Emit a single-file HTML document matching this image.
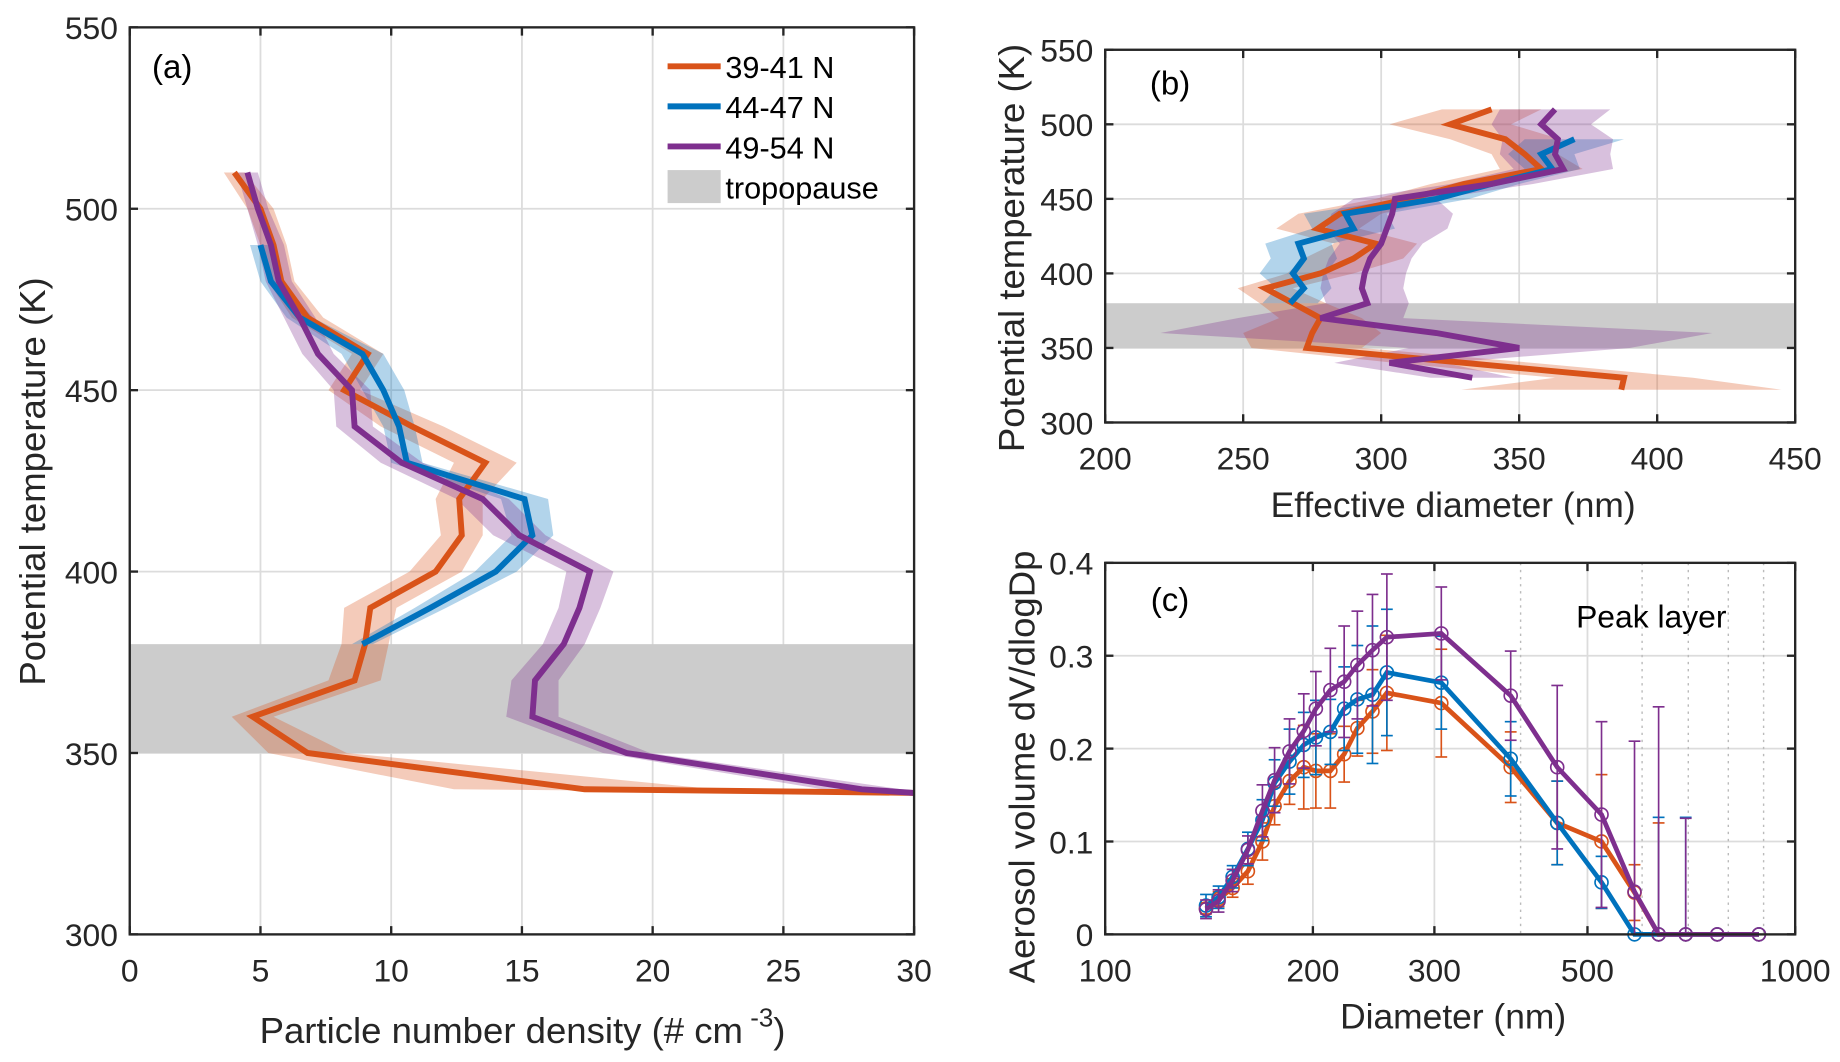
<!DOCTYPE html>
<html><head><meta charset="utf-8">
<style>
html,body{margin:0;padding:0;background:#fff;}
svg{display:block;font-family:"Liberation Sans",Arial,sans-serif;}
</style></head>
<body>
<svg id="fig" width="1840" height="1062" viewBox="0 0 1560 900" xmlns="http://www.w3.org/2000/svg"></svg>
<script>
// ---------- Panel (a) data ----------
const aThetaO = [510,500,490,480,470,460,450,440,430,420,410,400,390,380,370,360,350,340,339];
const aValO   = [4.0,5.0,5.5,5.8,6.8,9.1,8.2,10.8,13.6,12.6,12.7,11.7,9.2,9.0,8.6,4.7,6.8,17.4,30];
const aErrO   = [0.4,0.5,0.5,0.5,0.6,0.6,0.6,1.2,1.2,0.9,0.8,1.0,1.0,0.9,1.0,0.8,1.5,5.0,3];
const aThetaB = [490,480,470,460,450,440,430,420,410,400,390,380];
const aValB   = [5.0,5.4,6.5,8.9,9.7,10.3,10.6,15.1,15.4,14.0,11.5,8.9];
const aErrB   = [0.4,0.4,0.5,0.8,0.8,0.6,0.6,0.9,0.8,0.8,0.6,0.4];
const aThetaP = [510,500,490,480,470,460,450,440,430,420,410,400,390,380,370,360,350,340,339];
const aValP   = [4.5,4.9,5.4,5.7,6.5,7.2,8.5,8.6,10.4,13.5,14.9,17.6,17.2,16.6,15.5,15.4,19.0,28.0,30];
const aErrP   = [0.4,0.4,0.5,0.5,0.6,0.6,0.7,0.7,0.8,1.0,1.0,0.9,0.8,0.8,0.9,1.0,0.9,1.5,1.5];
const aXTicks = [0,5,10,15,20,25,30];
const aYTicks = [300,350,400,450,500,550];

// ---------- Panel (b) data ----------
const bThetaO = [510,500,490,480,470,460,450,440,430,420,410,400,390,380,370,360,350,340,330,322];
const bValO   = [340,325,345,352,358,330,310,285,277,298,290,278,258,268,278,275,273,330,388,387];
const bErrO   = [18,22,20,12,15,12,12,15,15,15,18,12,10,12,15,25,20,25,25,58];
const bThetaB = [490,480,470,460,450,440,430,420,410,400,390,380];
const bValB   = [370,358,362,340,320,287,290,270,272,268,272,267];
const bErrB   = [18,12,10,10,12,15,15,12,12,12,10,10];
const bThetaP = [510,500,490,480,470,460,450,440,430,420,410,400,390,380,370,360,350,340,330];
const bValP   = [363,358,364,363,366,340,305,304,302,300,296,294,293,295,278,320,350,303,333];
const bErrP   = [20,18,20,20,18,15,15,22,22,15,15,15,15,15,30,100,40,20,15];
const bXTicks = [200,250,300,350,400,450];
const bYTicks = [300,350,400,450,500,550];

// ---------- Panel (c) data ----------
const cDiam = [140,146,153,161,169,176,185,194,202,212,222,232,244,256,307,387,452,524,585,634,694,771,886];
const cValO = [0.028,0.038,0.050,0.068,0.100,0.138,0.165,0.180,0.176,0.176,0.194,0.222,0.240,0.260,0.249,0.180,0.120,0.100,0.045,0,0,0,0];
const cErrO = [0.006,0.008,0.010,0.014,0.020,0.020,0.025,0.045,0.040,0.040,0.030,0.030,0.045,0.062,0.058,0.038,0.045,0.072,0.03,0.12,0,0,0];
const cValB = [0.031,0.040,0.062,0.092,0.123,0.163,0.186,0.204,0.212,0.218,0.243,0.253,0.258,0.282,0.271,0.189,0.120,0.056,0,0,0,0,0];
const cErrB = [0.012,0.012,0.012,0.018,0.022,0.025,0.035,0.035,0.04,0.035,0.045,0.058,0.074,0.068,0.05,0.04,0.045,0.028,0,0.126,0.126,0,0];
const cValP = [0.027,0.036,0.058,0.091,0.133,0.166,0.197,0.219,0.243,0.263,0.272,0.290,0.306,0.320,0.324,0.257,0.180,0.129,0.046,0,0,0,0];
const cErrP = [0.01,0.012,0.012,0.015,0.028,0.035,0.035,0.04,0.04,0.045,0.06,0.058,0.06,0.068,0.05,0.048,0.088,0.1,0.162,0.245,0.125,0,0];
const cXTicks = [100,200,300,500,1000];
const cXMinor = [400,600,700,800,900];
const cYTicks = [0,0.1,0.2,0.3,0.4];

const NS='http://www.w3.org/2000/svg';
const svg=document.getElementById('fig');
const COL={o:'#D95319',b:'#0072BD',p:'#7E2F8E'};
function mk(tag,attrs,parent){const e=document.createElementNS(NS,tag);for(const k in attrs)e.setAttribute(k,attrs[k]);(parent||svg).appendChild(e);return e;}
function txt(s,x,y,size,anchor,parent,extra){const t=mk('text',Object.assign({x:x,y:y,'font-size':size,'text-anchor':anchor||'middle',fill:'#262626'},extra||{}),parent);t.textContent=s;return t;}

function panel(name,x0,x1,y0,y1,xmin,xmax,ymin,ymax,logx){
  const g=mk('g',{});
  
  
  const sx=logx?(v=>x0+(Math.log10(v)-Math.log10(xmin))/(Math.log10(xmax)-Math.log10(xmin))*(x1-x0)):(v=>x0+(v-xmin)/(xmax-xmin)*(x1-x0));
  const sy=v=>y1-(v-ymin)/(ymax-ymin)*(y1-y0);
  return {g,sx,sy,x0,x1,y0,y1};
}
function grid(P,xt,yt){
  const gg=mk('g',{},P.g);
  
  
  xt.forEach(v=>{const x=P.sx(v);mk('line',{x1:x,x2:x,y1:P.y0,y2:P.y1,stroke:'#dcdcdc','stroke-width':1.5},gg);});
  yt.forEach(v=>{const y=P.sy(v);mk('line',{x1:P.x0,x2:P.x1,y1:y,y2:y,stroke:'#dcdcdc','stroke-width':1.5},gg);});
}
function axes(P,xt,yt,xfmt,yfmt,fs){
  const ga=mk('g',{},P.g);
  
  
  mk('rect',{x:P.x0,y:P.y0,width:P.x1-P.x0,height:P.y1-P.y0,fill:'none',stroke:'#262626','stroke-width':2},ga);
  const gx=mk('g',{},P.g);
  
  
  xt.forEach(v=>{const x=P.sx(v);
    mk('line',{x1:x,x2:x,y1:P.y1,y2:P.y1-7,stroke:'#262626','stroke-width':2},ga);
    mk('line',{x1:x,x2:x,y1:P.y0,y2:P.y0+7,stroke:'#262626','stroke-width':2},ga);
    txt(xfmt(v),x,P.y1+40,fs,'middle',gx);});
  const gy=mk('g',{},P.g);
  
  
  yt.forEach(v=>{const y=P.sy(v);
    mk('line',{x1:P.x0,x2:P.x0+7,y1:y,y2:y,stroke:'#262626','stroke-width':2},ga);
    mk('line',{x1:P.x1,x2:P.x1-7,y1:y,y2:y,stroke:'#262626','stroke-width':2},ga);
    txt(yfmt(v),P.x0-10,y+10,fs,'end',gy);});
}
function band(P,xs,ys,err,color,name){
  let pts=[];
  for(let i=0;i<xs.length;i++)pts.push([P.sx(xs[i]+err[i]),P.sy(ys[i])]);
  for(let i=xs.length-1;i>=0;i--)pts.push([P.sx(xs[i]-err[i]),P.sy(ys[i])]);
  const p=mk('polygon',{points:pts.map(q=>q.join(',')).join(' '),fill:color,'fill-opacity':0.3,stroke:'none'},P.g);
  
  
}
function line(P,xs,ys,color,w,name){
  const p=mk('polyline',{points:xs.map((x,i)=>P.sx(x)+','+P.sy(ys[i])).join(' '),fill:'none',stroke:color,'stroke-width':w,'stroke-linejoin':'miter'},P.g);
  
  
}
function clip(P,id){const d=mk('defs',{},P.g);const c=mk('clipPath',{id:id},d);mk('rect',{x:P.x0,y:P.y0,width:P.x1-P.x0,height:P.y1-P.y0},c);}

// ===== Panel (a) =====
const A=panel('panel-a',110,775,23,792,0,30,300,550,false);
clip(A,'ca');
grid(A,aXTicks,aYTicks);
const aTrop=mk('rect',{x:A.x0,y:A.sy(380),width:A.x1-A.x0,height:A.sy(350)-A.sy(380),fill:'#cccccc'},A.g);


const aData=mk('g',{'clip-path':'url(#ca)'},A.g);
const Aclip={g:aData,sx:A.sx,sy:A.sy};
band(Aclip,aValO,aThetaO,aErrO,COL.o,'band-39-41');
band(Aclip,aValB,aThetaB,aErrB,COL.b,'band-44-47');
band(Aclip,aValP,aThetaP,aErrP,COL.p,'band-49-54');
line(Aclip,aValO,aThetaO,COL.o,5,'line-39-41');
line(Aclip,aValB,aThetaB,COL.b,5,'line-44-47');
line(Aclip,aValP,aThetaP,COL.p,5,'line-49-54');
axes(A,aXTicks,aYTicks,v=>String(v),v=>String(v),27);
txt('(a)',146,66,28,'middle',A.g,{fill:'#000'});
const axl=mk('text',{x:443,y:884,'font-size':31,'text-anchor':'middle',fill:'#262626'},A.g);


axl.innerHTML='Particle number density (# cm<tspan font-size="22" dy="-14"> -3</tspan><tspan dy="14">)</tspan>';
const ayl=txt('Potential temperature (K)',0,0,31,'middle',A.g,{transform:'translate(38,408) rotate(-90)'});

// legend
const lg=mk('g',{},A.g);


[['39-41 N',COL.o,56],['44-47 N',COL.b,90],['49-54 N',COL.p,124]].forEach(e=>{
  const it=mk('g',{},lg);
  
  
  mk('line',{x1:566,x2:611,y1:e[2],y2:e[2],stroke:e[1],'stroke-width':5},it);
  txt(e[0],615,e[2]+10,26,'start',it,{fill:'#000'});
});
const lt=mk('g',{},lg);


mk('rect',{x:566,y:144,width:45,height:28,fill:'#cccccc'},lt);
txt('tropopause',615,168,26,'start',lt,{fill:'#000'});

// ===== Panel (b) =====
const B=panel('panel-b',937,1522,42,358,200,450,300,550,false);
clip(B,'cb');
grid(B,bXTicks,bYTicks);
const bTrop=mk('rect',{x:B.x0,y:B.sy(380),width:B.x1-B.x0,height:B.sy(350)-B.sy(380),fill:'#cccccc'},B.g);


const bData=mk('g',{'clip-path':'url(#cb)'},B.g);
const Bc={g:bData,sx:B.sx,sy:B.sy};
band(Bc,bValO,bThetaO,bErrO,COL.o,'band-39-41');
band(Bc,bValB,bThetaB,bErrB,COL.b,'band-44-47');
band(Bc,bValP,bThetaP,bErrP,COL.p,'band-49-54');
line(Bc,bValO,bThetaO,COL.o,5,'line-39-41');
line(Bc,bValB,bThetaB,COL.b,5,'line-44-47');
line(Bc,bValP,bThetaP,COL.p,5,'line-49-54');
axes(B,bXTicks,bYTicks,v=>String(v),v=>String(v),27);
txt('(b)',992,80,28,'middle',B.g,{fill:'#000'});
txt('Effective diameter (nm)',1232,438,30,'middle',B.g);
txt('Potential temperature (K)',0,0,31,'middle',B.g,{transform:'translate(868,210) rotate(-90)'});

// ===== Panel (c) =====
const C=panel('panel-c',937,1522,477,792,100,1000,0,0.4,true);
clip(C,'cc');
grid(C,cXTicks,cYTicks);
const gm=mk('g',{},C.g);


cXMinor.forEach(v=>{const x=C.sx(v);mk('line',{x1:x,x2:x,y1:C.y0,y2:C.y1,stroke:'#bbbbbb','stroke-width':1.2,'stroke-dasharray':'2,4'},gm);});
function series(xs,ys,err,color,name){
  const g=mk('g',{},C.g);
  
  
  const Pc={g:g,sx:C.sx,sy:C.sy};
  xs.forEach((x,i)=>{ if(err[i]<=0)return;
    const px=C.sx(x),yt=C.sy(ys[i]+err[i]),yb=C.sy(Math.max(ys[i]-err[i],0));
    mk('line',{x1:px,x2:px,y1:yt,y2:yb,stroke:color,'stroke-width':1.4},g);
    mk('line',{x1:px-5,x2:px+5,y1:yt,y2:yt,stroke:color,'stroke-width':1.4},g);
    mk('line',{x1:px-5,x2:px+5,y1:yb,y2:yb,stroke:color,'stroke-width':1.4},g);
  });
  line(Pc,xs,ys,color,4,name+'-line');
  xs.forEach((x,i)=>{mk('circle',{cx:C.sx(x),cy:C.sy(ys[i]),r:5.5,fill:'none',stroke:color,'stroke-width':1.4},g);});
}
series(cDiam,cValO,cErrO,COL.o,'series-39-41');
series(cDiam,cValB,cErrB,COL.b,'series-44-47');
series(cDiam,cValP,cErrP,COL.p,'series-49-54');
axes(C,cXTicks,cYTicks,v=>String(v),v=>v===0?'0':String(v),27);
txt('(c)',992,518,28,'middle',C.g,{fill:'#000'});
txt('Peak layer',1400,532,27,'middle',C.g,{fill:'#000'});
txt('Diameter (nm)',1232,872,30,'middle',C.g);
txt('Aerosol volume dV/dlogDp',0,0,31,'middle',C.g,{transform:'translate(877,650) rotate(-90)'});
</script>
</body></html>
